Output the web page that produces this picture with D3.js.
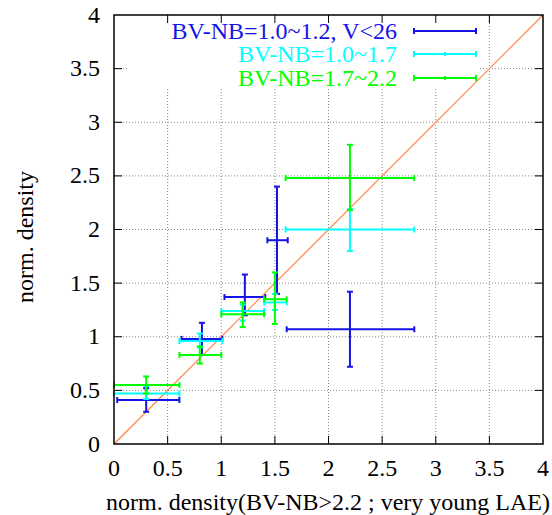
<!DOCTYPE html>
<html>
<head>
<meta charset="utf-8">
<script src="https://cdn.jsdelivr.net/npm/d3@7"></script>
<style>
  body { margin: 0; background: #fff; }
</style>
</head>
<body>
<svg id="chart" width="552" height="515" font-family="'Liberation Serif', 'Times New Roman', Times, serif"></svg>
<script>
// x, y, xlow, xhigh, ylow, yhigh
const blueX = [0.30, 0.82, 1.22, 1.52, 2.20];
const blueY = [0.41, 0.98, 1.37, 1.90, 1.07];
const blueXlo = [0.03, 0.63, 1.03, 1.43, 1.61];
const blueXhi = [0.61, 1.01, 1.41, 1.62, 2.80];
const blueYlo = [0.30, 0.83, 1.20, 1.40, 0.72];
const blueYhi = [0.52, 1.13, 1.58, 2.40, 1.42];

const cyanX = [0.30, 0.80, 1.20, 1.50, 2.20];
const cyanY = [0.47, 0.96, 1.24, 1.32, 2.00];
const cyanXlo = [0.00, 0.61, 1.00, 1.40, 1.60];
const cyanXhi = [0.61, 1.01, 1.40, 1.61, 2.80];
const cyanYlo = [0.42, 0.90, 1.15, 1.25, 1.80];
const cyanYhi = [0.54, 1.03, 1.30, 1.40, 2.19];

const greenX = [0.30, 0.80, 1.20, 1.50, 2.20];
const greenY = [0.55, 0.83, 1.21, 1.35, 2.48];
const greenXlo = [0.00, 0.61, 1.00, 1.40, 1.60];
const greenXhi = [0.61, 1.00, 1.40, 1.61, 2.80];
const greenYlo = [0.47, 0.75, 1.09, 1.12, 2.18];
const greenYhi = [0.63, 0.91, 1.32, 1.60, 2.79];

const tickValues = [0, 0.5, 1, 1.5, 2, 2.5, 3, 3.5, 4];
const tickLabels = ["0", "0.5", "1", "1.5", "2", "2.5", "3", "3.5", "4"];

const seriesNames = ["BV-NB=1.0~1.2, V<26", "BV-NB=1.0~1.7", "BV-NB=1.7~2.2"];
const seriesColors = ["#1414e6", "#00ffff", "#00ff00"];

function rows(x, y, xlo, xhi, ylo, yhi) {
  return x.map((v, i) => ({x: v, y: y[i], xlo: xlo[i], xhi: xhi[i], ylo: ylo[i], yhi: yhi[i]}));
}
const series = [
  rows(blueX, blueY, blueXlo, blueXhi, blueYlo, blueYhi),
  rows(cyanX, cyanY, cyanXlo, cyanXhi, cyanYlo, cyanYhi),
  rows(greenX, greenY, greenXlo, greenXhi, greenYlo, greenYhi)
];

const margin = {left: 114, top: 15, right: 9, bottom: 71};
const width = 552, height = 515;
const fs = 24;
const x = d3.scaleLinear().domain([0, 4]).range([margin.left, width - margin.right]);
const y = d3.scaleLinear().domain([0, 4]).range([height - margin.bottom, margin.top]);

const svg = d3.select("#chart");

// grid
const grid = svg.append("g").attr("stroke", "#888").attr("stroke-width", 1).attr("stroke-dasharray", "1,2");
grid.selectAll("line.v").data(tickValues.slice(1, -1)).enter().append("line")
  .attr("x1", d => x(d)).attr("x2", d => x(d))
  .attr("y1", y(0)).attr("y2", y(4));
grid.selectAll("line.h").data(tickValues.slice(1, -1)).enter().append("line")
  .attr("y1", d => y(d)).attr("y2", d => y(d))
  .attr("x1", x(0)).attr("x2", x(4));

// key area hides grid
svg.append("rect").attr("x", 128).attr("y", y(4) + 1).attr("width", 350).attr("height", 73).attr("fill", "#fff");

// ticks (inward, all four sides)
const tl = 8;
const ticks = svg.append("g").attr("stroke", "#000").attr("stroke-width", 1);
tickValues.slice(1, -1).forEach(v => {
  ticks.append("line").attr("x1", x(v)).attr("x2", x(v)).attr("y1", y(0)).attr("y2", y(0) - tl);
  ticks.append("line").attr("x1", x(v)).attr("x2", x(v)).attr("y1", y(4)).attr("y2", y(4) + tl);
  ticks.append("line").attr("y1", y(v)).attr("y2", y(v)).attr("x1", x(0)).attr("x2", x(0) + tl);
  ticks.append("line").attr("y1", y(v)).attr("y2", y(v)).attr("x1", x(4)).attr("x2", x(4) - tl);
});

// tick labels
svg.selectAll("text.xt").data(tickValues).enter().append("text")
  .attr("x", d => x(d)).attr("y", y(0) + 32)
  .attr("text-anchor", "middle").attr("font-size", fs)
  .text((d, i) => tickLabels[i]);
svg.selectAll("text.yt").data(tickValues).enter().append("text")
  .attr("x", x(0) - 14).attr("y", d => y(d) + 7.5)
  .attr("text-anchor", "end").attr("font-size", fs)
  .text((d, i) => tickLabels[i]);

// axis titles
svg.append("text").attr("x", 328).attr("y", 510).attr("text-anchor", "middle")
  .attr("font-size", fs).text("norm. density(BV-NB>2.2 ; very young LAE)");
svg.append("text").attr("transform", "translate(33,237) rotate(-90)").attr("text-anchor", "middle")
  .attr("font-size", fs).text("norm. density");

// diagonal y = x
svg.append("line").attr("x1", x(0)).attr("y1", y(0)).attr("x2", x(4)).attr("y2", y(4))
  .attr("stroke", "#ff7f3f").attr("stroke-width", 1.2);

// error bars
const cap = 3;
series.forEach((data, si) => {
  const g = svg.append("g").attr("stroke", seriesColors[si]).attr("stroke-width", 2).attr("fill", "none");
  data.forEach(d => {
    g.append("line").attr("x1", x(d.xlo)).attr("x2", x(d.xhi)).attr("y1", y(d.y)).attr("y2", y(d.y));
    g.append("line").attr("x1", x(d.xlo)).attr("x2", x(d.xlo)).attr("y1", y(d.y) - cap).attr("y2", y(d.y) + cap);
    g.append("line").attr("x1", x(d.xhi)).attr("x2", x(d.xhi)).attr("y1", y(d.y) - cap).attr("y2", y(d.y) + cap);
    g.append("line").attr("x1", x(d.x)).attr("x2", x(d.x)).attr("y1", y(d.ylo)).attr("y2", y(d.yhi));
    g.append("line").attr("x1", x(d.x) - cap).attr("x2", x(d.x) + cap).attr("y1", y(d.ylo)).attr("y2", y(d.ylo));
    g.append("line").attr("x1", x(d.x) - cap).attr("x2", x(d.x) + cap).attr("y1", y(d.yhi)).attr("y2", y(d.yhi));
  });
});

// legend
const keyY = [31, 54, 78];
seriesNames.forEach((name, i) => {
  svg.append("text").attr("x", 397).attr("y", keyY[i] + 8).attr("text-anchor", "end")
    .attr("font-size", fs).attr("fill", seriesColors[i]).text(name);
  const g = svg.append("g").attr("stroke", seriesColors[i]).attr("stroke-width", 2);
  g.append("line").attr("x1", 414).attr("x2", 476).attr("y1", keyY[i]).attr("y2", keyY[i]);
  g.append("line").attr("x1", 414).attr("x2", 414).attr("y1", keyY[i] - 3).attr("y2", keyY[i] + 3);
  g.append("line").attr("x1", 476).attr("x2", 476).attr("y1", keyY[i] - 3).attr("y2", keyY[i] + 3);
  if (i > 0) g.append("line").attr("x1", 445).attr("x2", 445).attr("y1", keyY[i] - 2).attr("y2", keyY[i] + 2);
});

// border
svg.append("rect").attr("x", x(0)).attr("y", y(4)).attr("width", x(4) - x(0)).attr("height", y(0) - y(4))
  .attr("fill", "none").attr("stroke", "#000").attr("stroke-width", 1.5);
</script>
</body>
</html>
